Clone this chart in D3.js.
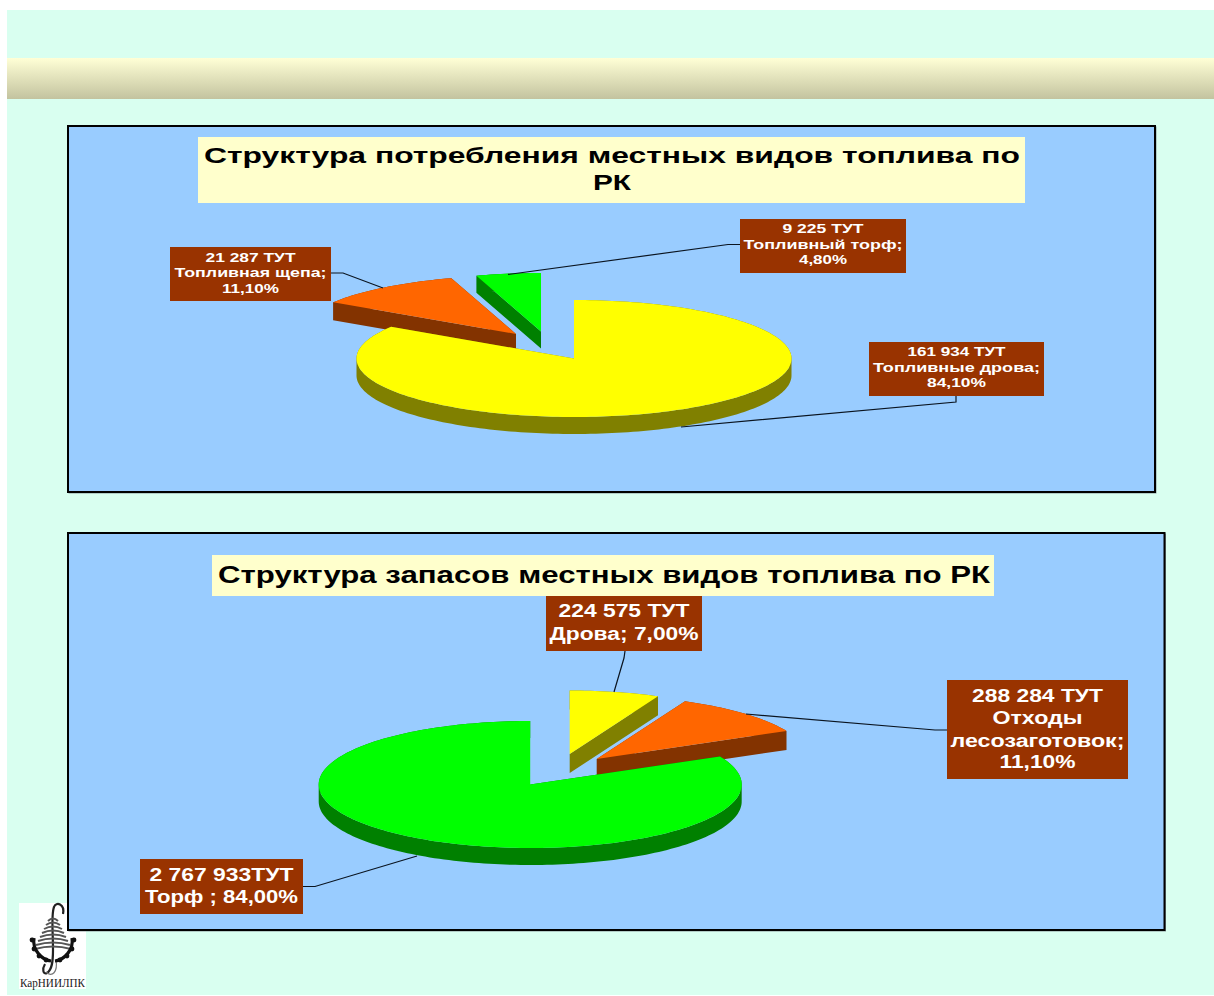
<!DOCTYPE html>
<html>
<head>
<meta charset="utf-8">
<script src="https://cdn.jsdelivr.net/npm/d3@7"></script>
<style>
  body { margin: 0; background: #fff; }
  svg { display: block; }
  text { font-family: "Liberation Sans", Arial, sans-serif; font-weight: bold; }
</style>
</head>
<body>
<svg id="chart" width="1214" height="996"></svg>
<script>
// Chart data
const useCategories = ["Топливные дрова", "Топливная щепа", "Топливный торф"];
const usePercents = [84.1, 11.1, 4.8];
const useTotals = ["161 934 ТУТ", "21 287 ТУТ", "9 225 ТУТ"];
const useTitle = ["Структура потребления местных видов топлива по", "РК"];

const stockCategories = ["Дрова", "Отходы лесозаготовок", "Торф"];
const stockPercents = [7.0, 11.1, 84.0];
const stockTotals = ["224 575 ТУТ", "288 284 ТУТ", "2 767 933ТУТ"];
const stockTitle = ["Структура запасов местных видов топлива по РК"];

const useLabelLines = [
  [useTotals[0], useCategories[0] + ";", "84,10%"],
  [useTotals[1], useCategories[1] + ";", "11,10%"],
  [useTotals[2], useCategories[2] + ";", "4,80%"],
];
const stockLabelLines = [
  [stockTotals[0], stockCategories[0] + "; 7,00%"],
  [stockTotals[1], "Отходы", "лесозаготовок;", "11,10%"],
  [stockTotals[2], stockCategories[2] + " ; 84,00%"],
];

const tops = { yellow: "#ffff00", orange: "#ff6600", green: "#00ff00" };
const walls = { yellow: "#808000", orange: "#833300", green: "#008000" };

const svg = d3.select("#chart");
const defs = svg.append("defs");

// Page background and banner
const grad = defs.append("linearGradient").attr("id", "banner")
  .attr("x1", 0).attr("y1", 0).attr("x2", 0).attr("y2", 1);
grad.append("stop").attr("offset", "0%").attr("stop-color", "#ffffd6");
grad.append("stop").attr("offset", "100%").attr("stop-color", "#c3c39f");

svg.append("rect").attr("x", 7).attr("y", 10).attr("width", 1207).attr("height", 985).attr("fill", "#d9fff0");
svg.append("rect").attr("x", 7).attr("y", 58).attr("width", 1207).attr("height", 41).attr("fill", "url(#banner)");

drawLogo();

const panels = [
  {
    frame: [68, 126, 1155, 492],
    titleBox: [198, 137, 1025, 203],
    title: useTitle,
    titleRows: [{ x: 612, y: 163, w: 816 }, { x: 612, y: 190, w: 38 }],
    titleSize: 22,
    percents: usePercents,
    colors: ["yellow", "orange", "green"],
    pie: { cx: 574, cy: 358.5, rx: 217.5, ry: 58.5 },
    slices: [{ dx: 0, dy: 0, depth: 17 }, { dx: -58, dy: -24.5, depth: 18 }, { dx: -33, dy: -27, depth: 17 }],
    drawOrder: [2, 1, 0],
    labelSize: 13,
    labelLines: useLabelLines,
    labels: [
      { box: [869, 342, 1044, 396], rows: [[356, 98], [372, 167], [387, 59]],
        leader: [[956, 396], [956, 402], [681, 427]] },
      { box: [170, 247, 331, 301], rows: [[262, 90], [277, 152], [293, 57]],
        leader: [[331, 273], [343, 273], [383, 288]] },
      { box: [740, 219, 906, 273], rows: [[233, 81], [249, 159], [264, 48]],
        leader: [[740, 244.5], [728, 244.5], [508, 274.5]] },
    ],
  },
  {
    frame: [68, 533, 1164.5, 930],
    titleBox: [212, 555, 994, 596],
    title: stockTitle,
    titleRows: [{ x: 604, y: 583, w: 772 }],
    titleSize: 23,
    percents: stockPercents,
    colors: ["yellow", "orange", "green"],
    pie: { cx: 531.2, cy: 784.5, rx: 211.5, ry: 63.5 },
    slices: [{ dx: 38.5, dy: -30.5, depth: 19 }, { dx: 65.5, dy: -25.5, depth: 19 }, { dx: -1, dy: 0, depth: 17 }],
    drawOrder: [0, 1, 2],
    labelSize: 18,
    labelLines: stockLabelLines,
    labels: [
      { box: [546, 596, 702, 651], rows: [[617, 131], [640, 149]],
        leader: [[625, 651], [624, 658], [614, 692]] },
      { box: [947, 680, 1128, 779], rows: [[702, 131], [724, 90], [747, 174], [768, 76]],
        leader: [[947, 730], [935, 730], [746, 714]] },
      { box: [140, 859, 303, 914], rows: [[881, 144], [903, 153]],
        leader: [[303, 886.5], [315, 886.5], [417, 856]] },
    ],
  },
];

panels.forEach(drawPanel);

function drawPanel(p) {
  const g = svg.append("g");
  const [fx0, fy0, fx1, fy1] = p.frame;

  // soft grey edge on the frame, then the black line
  g.append("rect").attr("x", fx0 + 1).attr("y", fy0 + 1).attr("width", fx1 - fx0).attr("height", fy1 - fy0)
    .attr("fill", "none").attr("stroke", "#8a9a9a").attr("stroke-width", 1);
  g.append("rect").attr("x", fx0).attr("y", fy0).attr("width", fx1 - fx0).attr("height", fy1 - fy0)
    .attr("fill", "#99ccff").attr("stroke", "#000").attr("stroke-width", 2);

  const [tx0, ty0, tx1, ty1] = p.titleBox;
  g.append("rect").attr("x", tx0).attr("y", ty0).attr("width", tx1 - tx0).attr("height", ty1 - ty0).attr("fill", "#ffffcc");
  p.title.forEach((line, i) => {
    const row = p.titleRows[i];
    fitText(g, line, row.x, row.y, row.w, p.titleSize, "#000");
  });

  // Pie angles come from d3.pie, in the file's slice order
  const arcs = d3.pie().sort(null)(p.percents);
  const line = d3.line();

  p.drawOrder.forEach((i) => {
    const a = arcs[i];
    const s = p.slices[i];
    const x = p.pie.cx + s.dx;
    const y = p.pie.cy + s.dy;
    const steps = Math.max(2, Math.ceil((a.endAngle - a.startAngle) * 40));
    const rim = d3.range(steps + 1).map((k) => {
      const t = a.startAngle + (a.endAngle - a.startAngle) * k / steps;
      return [x + p.pie.rx * Math.sin(t), y - p.pie.ry * Math.cos(t)];
    });
    const outline = [[x, y], ...rim];

    // side wall: one quad per outline edge, wound the same way
    const wall = outline.map((pt, k) => {
      let q = outline[(k + 1) % outline.length];
      let r = pt;
      if (q[0] < r[0]) [r, q] = [q, r];
      return line([r, q, [q[0], q[1] + s.depth], [r[0], r[1] + s.depth]]) + "Z";
    }).join("");

    g.append("path").attr("d", wall).attr("fill", walls[p.colors[i]]);
    g.append("path").attr("d", line(outline) + "Z").attr("fill", tops[p.colors[i]]);
  });

  // Leader lines, then data label boxes
  p.labels.forEach((l) => {
    g.append("path").attr("d", line(l.leader)).attr("fill", "none")
      .attr("stroke", "#0a1420").attr("stroke-width", 1.2);
  });
  p.labels.forEach((l, i) => {
    const [bx0, by0, bx1, by1] = l.box;
    g.append("rect").attr("x", bx0).attr("y", by0).attr("width", bx1 - bx0).attr("height", by1 - by0).attr("fill", "#993300");
    p.labelLines[i].forEach((txt, k) => {
      fitText(g, txt, (bx0 + bx1) / 2, l.rows[k][0], l.rows[k][1], p.labelSize, "#fff");
    });
  });
}

// The reference text is stretched wide, so each line is fitted to its measured width
function fitText(g, txt, x, y, w, size, color) {
  g.append("text").attr("x", x).attr("y", y)
    .attr("text-anchor", "middle")
    .attr("font-size", size)
    .attr("fill", color)
    .attr("textLength", w)
    .attr("lengthAdjust", "spacingAndGlyphs")
    .text(txt);
}

function drawLogo() {
  const g = svg.append("g");
  g.append("rect").attr("x", 19).attr("y", 903).attr("width", 67).attr("height", 86).attr("fill", "#fff");

  // stem with the hook on top and the loop at the foot
  g.append("path")
    .attr("d", "M63 914C65 904 56 901 54 907C51 915 53 930 53 950C53 962 52 970 47 973C43 975 42 969 45 964")
    .attr("fill", "none").attr("stroke", "#222").attr("stroke-width", 2.2);
  g.append("path").attr("d", "M46 972C52 978 58 972 56 960").attr("fill", "none").attr("stroke", "#777").attr("stroke-width", 1.2);

  // tree tiers
  const tiers = [[919, 5], [923, 7], [927, 9], [931, 11], [935, 13], [939, 15], [943, 17], [947, 18]];
  tiers.forEach(([y, w]) => {
    g.append("path").attr("d", `M${53 - w} ${y + 2}Q53 ${y - 3} ${53 + w} ${y + 2}`)
      .attr("fill", "none").attr("stroke", "#555").attr("stroke-width", 2);
  });

  // gear arc round the tree
  g.append("path").attr("d", "M34 938C32 950 42 960 51 961M72 938C74 950 64 960 55 961")
    .attr("fill", "none").attr("stroke", "#111").attr("stroke-width", 3.2);
  const teeth = [[32, 940], [34, 949], [39, 956], [46, 960], [60, 960], [67, 956], [72, 949], [74, 940]];
  g.selectAll("circle.tooth").data(teeth).enter().append("circle").attr("class", "tooth")
    .attr("cx", (d) => d[0]).attr("cy", (d) => d[1]).attr("r", 2.4).attr("fill", "#111");

  g.append("text").attr("x", 20).attr("y", 987)
    .attr("textLength", 65).attr("lengthAdjust", "spacingAndGlyphs")
    .attr("font-size", 11.5).attr("fill", "#222")
    .style("font-family", "'Liberation Serif', serif").style("font-weight", "normal")
    .text("КарНИИЛПК");
}
</script>
</body>
</html>
